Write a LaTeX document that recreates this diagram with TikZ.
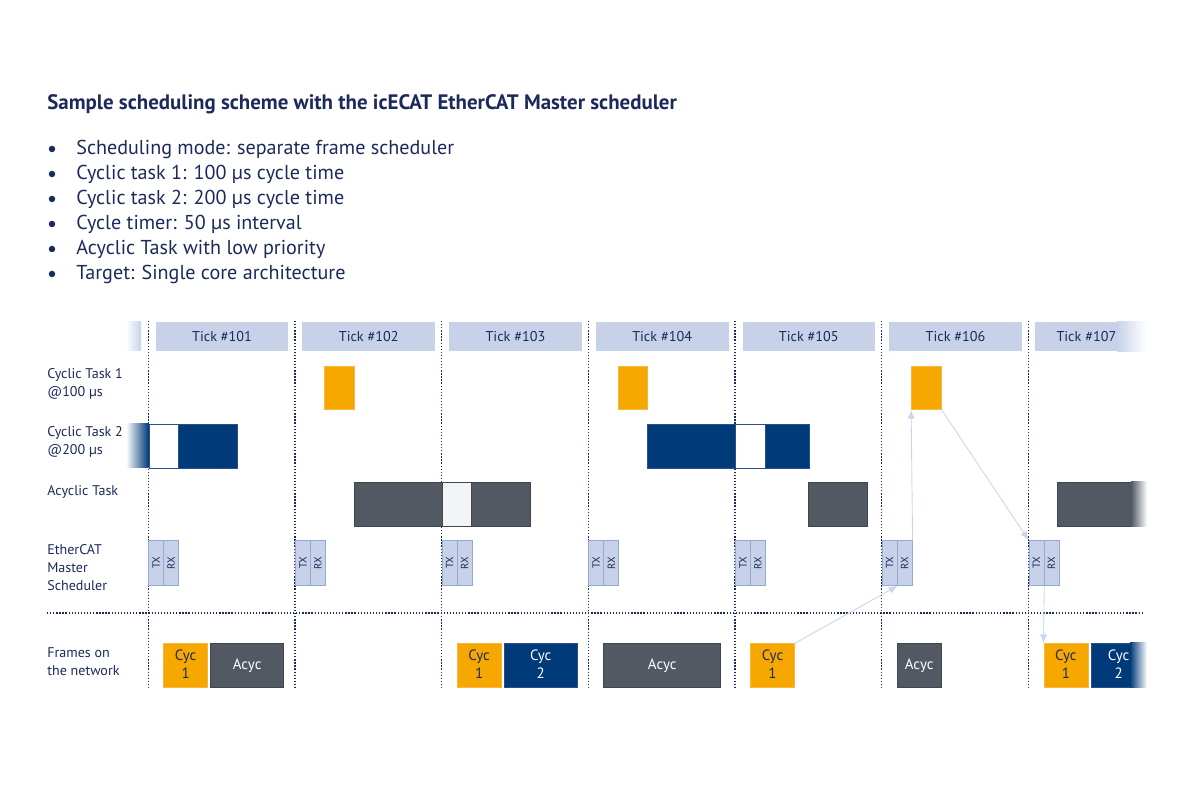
\documentclass[tikz,border=0pt]{standalone}
\usepackage{fontspec}
\setmainfont{PT Sans}
\usetikzlibrary{arrows.meta}

\definecolor{navy}{HTML}{1B2A5A}
\definecolor{tickblue}{HTML}{C7D2E9}
\definecolor{tickedge}{HTML}{93A9D8}
\definecolor{cycone}{HTML}{F7A800}
\definecolor{cyconeedge}{HTML}{F9B73F}
\definecolor{cyctwo}{HTML}{003A79}
\definecolor{cyctwoedge}{HTML}{2C4E8C}
\definecolor{acycgray}{HTML}{525962}
\definecolor{acycedge}{HTML}{40464E}
\definecolor{idle}{HTML}{F3F4F8}
\definecolor{flowblue}{HTML}{C9D5EE}

\newcommand{\twoline}[2]{\begin{tabular}{@{}c@{}}#1\\#2\end{tabular}}

\tikzset{
  blk/.style n args={4}{anchor=north west, at={(#1,#2)},
    minimum width={((#3)-(#1))*0.02cm}, minimum height={((#4)-(#2))*0.02cm}},
  box/.style={inner sep=0pt, line width=0.45pt},
  tick/.style={box, fill=tickblue, text=navy, font=\fontsize{8.1}{10}\selectfont},
  txrx/.style={box, fill=tickblue, draw=tickedge},
  ctone/.style={box, fill=cycone, draw=cyconeedge, text=navy, font=\fontsize{8.5}{10.2}\selectfont},
  cttwo/.style={box, fill=cyctwo, draw=cyctwoedge, text=white, font=\fontsize{8.5}{10.2}\selectfont},
  ctpause/.style={box, fill=white, draw=cyctwoedge},
  acyc/.style={box, fill=acycgray, draw=acycedge, text=white, font=\fontsize{8.5}{10.2}\selectfont},
  acycpause/.style={box, fill=idle, draw=acycedge},
  rowlabel/.style={anchor=west, align=left, text=navy, inner sep=0pt, font=\fontsize{8}{10.2}\selectfont},
  dotbullet/.style={circle, fill=navy, inner sep=0pt, minimum size=0.13cm},
  tline/.style={navy, densely dotted, line width=0.75pt},
  flow/.style={draw=flowblue, line width=0.5pt, -{Latex[length=5pt,width=4pt]}},
}

\begin{document}
\begin{tikzpicture}[x=0.02cm, y=-0.02cm]
  \useasboundingbox (0,0) rectangle (1200,800);

  % Heading and bullets:
  \node[anchor=base west, inner sep=0pt, text=navy, font=\fontsize{11.9}{14}\selectfont\bfseries] (title) at (47,110)
    {Sample scheduling scheme with the icECAT EtherCAT Master scheduler};
  \foreach \y/\txt [count=\n] in {155/Scheduling mode: separate frame scheduler,
      180/Cyclic task 1: 100 µs cycle time, 205/Cyclic task 2: 200 µs cycle time,
      230/Cycle timer: 50 µs interval, 255/Acyclic Task with low priority,
      280/Target: Single core architecture}{
    \node[dotbullet] (dot\n) at (52,\y-6) {};
    \node[anchor=base west, inner sep=0pt, text=navy, font=\fontsize{11.45}{13}\selectfont] (item\n) at (76,\y) {\txt};
  }

  % Row labels:
  \node[rowlabel] (lct1) at (47,384) {Cyclic Task 1\\@100 µs};
  \node[rowlabel] (lct2) at (47,442) {Cyclic Task 2\\@200 µs};
  \node[rowlabel] (lacyc) at (47,492) {Acyclic Task};
  \node[rowlabel] (lsched) at (47,568) {EtherCAT\\Master\\Scheduler};
  \node[rowlabel] (lframes) at (47,661.5) {Frames on\\the network};

  % Timer ticks, dotted lines and TX/RX:
  \draw[tline] (47,613) -- (1143,613);
  \foreach \i/\x in {101/148.3,102/295,103/441.7,104/588.4,105/735.1,106/881.8,107/1028.5}{
    \draw[tline] (\x,321) -- (\x,688);
    \node[txrx, blk={\x}{540}{\x+15}{585},
      label={[rotate=90, text=navy, font=\fontsize{6}{7}\selectfont]center:TX}] (tx\i) {};
    \node[txrx, blk={\x+15}{540}{\x+30}{585},
      label={[rotate=90, text=navy, font=\fontsize{6}{7}\selectfont]center:RX}] (rx\i) {};
  }
  \foreach \i/\x in {101/148.3,102/295,103/441.7,104/588.4,105/735.1,106/881.8}
    \node[tick, blk={\x+7}{322}{\x+139.7}{351}] (t\i) {Tick \#\i};
  \node[tick, blk={1035}{322}{1137}{351}] (t107) {Tick \#107};
  \shade[left color=tickblue, right color=white] (1117,321.5) rectangle (1146,351.5);
  \shade[left color=white, right color=tickblue] (126,322) rectangle (141,351);

  % Cyclic task 1:
  \node[ctone, blk={324.3}{365.7}{354}{409}] (ctone102) {};
  \node[ctone, blk={617.7}{365.7}{647.4}{409}] (ctone104) {};
  \node[ctone, blk={911.1}{365.7}{940.8}{409}] (ctone106) {};

  % Cyclic task 2:
  \shade[left color=white, right color=cyctwo] (126,423.7) rectangle (148.7,467.7);
  \node[ctpause, blk={148.7}{423.7}{178}{467.7}] (cttwoa101) {};
  \node[cttwo, blk={178}{423.7}{237}{467.7}] (cttwob101) {};
  \node[cttwo, blk={647.4}{423.7}{735.1}{467.7}] (cttwoa104) {};
  \node[ctpause, blk={735.1}{423.7}{764.8}{467.7}] (cttwob105) {};
  \node[cttwo, blk={764.8}{423.7}{809}{467.7}] (cttwoc105) {};

  % Acyclic task:
  \node[acyc, blk={354}{482}{441.7}{526}] (acyca102) {};
  \node[acycpause, blk={441.7}{482}{470.7}{526}] (acycb103) {};
  \node[acyc, blk={470.7}{482}{530}{526}] (acycc103) {};
  \node[acyc, blk={808}{482}{866.5}{526}] (acyc105) {};
  \node[acyc, blk={1057}{482}{1146}{526}] (acyc107) {};
  \shade[left color=acycgray, right color=white] (1131,481.5) rectangle (1147,526.5);

  % Frames on the network:
  \node[ctone, blk={163.3}{643.3}{207.3}{687}] (fcyc101) {\twoline{Cyc}{1}};
  \node[acyc, blk={210.3}{643.3}{283.3}{687}] (facyc101) {Acyc};
  \node[ctone, blk={456.7}{643.3}{500.7}{687}] (fcyc103) {\twoline{Cyc}{1}};
  \node[cttwo, blk={503.7}{643.3}{577}{687}] (fcyctwo103) {\twoline{Cyc}{2}};
  \node[acyc, blk={603.4}{643.3}{720.4}{687}] (facyc104) {Acyc};
  \node[ctone, blk={750.1}{643.3}{794.1}{687}] (fcyc105) {\twoline{Cyc}{1}};
  \node[acyc, blk={896.8}{643.3}{940.8}{687}] (facyc106) {Acyc};
  \node[ctone, blk={1043.5}{643.3}{1087.5}{687}] (fcyc107) {\twoline{Cyc}{1}};
  \node[cttwo, blk={1090.5}{643.3}{1146}{687}] (fcyctwo107) {\twoline{Cyc}{2}};
  \shade[left color=cyctwo, right color=white] (1130,642.8) rectangle (1147,687.5);

  % Data flow:
  \draw[flow] (fcyc105.north east) -- (tx106.south east);
  \draw[flow] (rx106.north east) -- (ctone106.south west);
  \draw[flow] (ctone106.south east) -- (tx107.north west);
  \draw[flow] (tx107.south east) -- (fcyc107.north west);
\end{tikzpicture}
\end{document}
